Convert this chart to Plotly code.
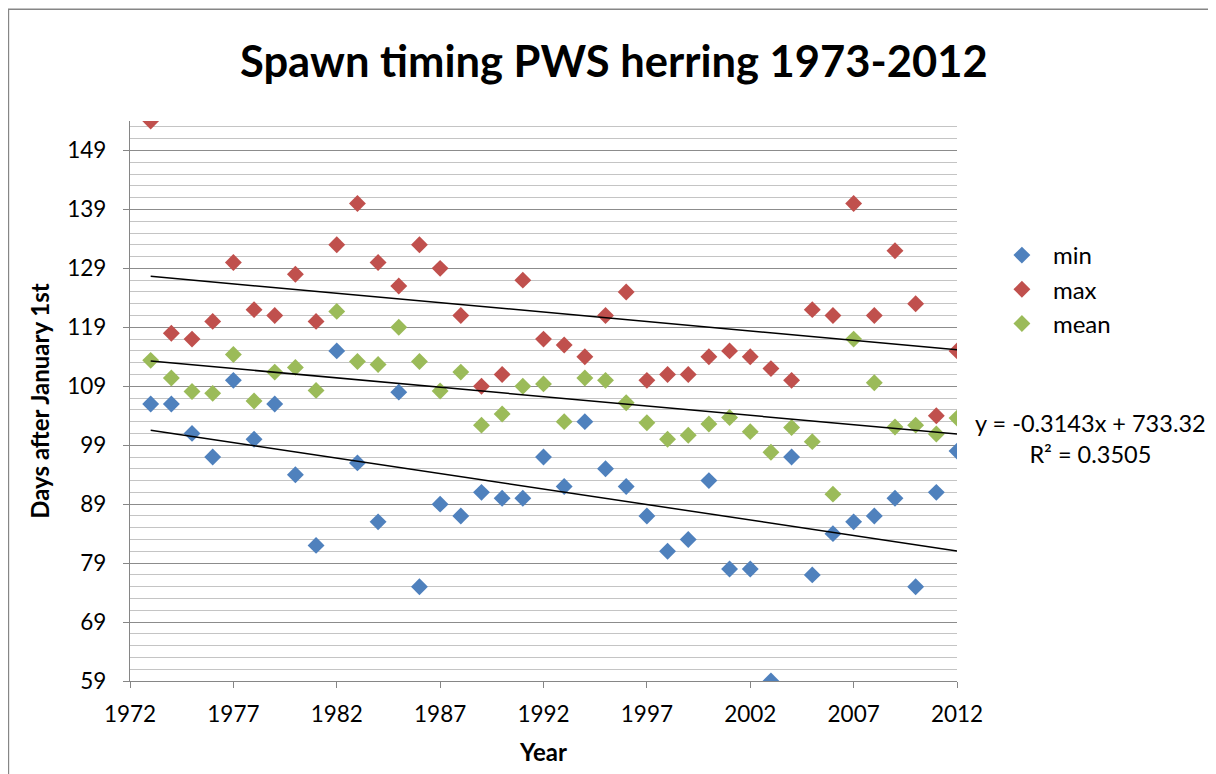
import numpy as np
import plotly.graph_objects as go

years = list(range(1973, 2013))

min_days = [106, 106, 101, 97, 110, 100, 106, 94, 82, 115,
            96, 86, 108, 75, 89, 87, 91, 90, 90, 97,
            92, 103, 95, 92, 87, 81, 83, 93, 78, 78,
            59, 97, 77, 84, 86, 87, 90, 75, 91, 98]
max_days = [154, 118, 117, 120, 130, 122, 121, 128, 120, 133,
            140, 130, 126, 133, 129, 121, 109, 111, 127, 117,
            116, 114, 121, 125, 110, 111, 111, 114, 115, 114,
            112, 110, 122, 121, 140, 121, 132, 123, 104, 115]
mean_days = [113.4, 110.4, 108.1, 107.8, 114.4, 106.5, 111.4, 112.2, 108.3, 121.7,
             113.2, 112.7, 119.0, 113.2, 108.2, 111.4, 102.4, 104.3, 109.0, 109.4,
             103.0, 110.4, 110.0, 106.2, 102.8, 100.0, 100.7, 102.6, 103.7, 101.3,
             97.8, 102.0, 99.6, 90.7, 117.0, 109.6, 102.1, 102.4, 100.9, 103.6]

series = [("min", min_days, "#4F81BD"),
          ("max", max_days, "#C0504D"),
          ("mean", mean_days, "#9BBB59")]

eq_text = "y = -0.3143x + 733.32<br>R² = 0.3505"

FONT = "Lato, Carlito, Calibri, sans-serif"

fig = go.Figure()
x = np.array(years, dtype=float)
for name, vals, color in series:
    fig.add_trace(go.Scatter(x=years, y=vals, mode="markers", name=name,
                             legendgroup=name,
                             marker=dict(symbol="diamond", size=13, color=color)))
# linear trendlines, one per series
for name, vals, color in series:
    slope, icpt = np.polyfit(x, np.array(vals, dtype=float), 1)
    xs = [years[0], years[-1]]
    fig.add_trace(go.Scatter(x=xs, y=[slope * v + icpt for v in xs], mode="lines",
                             line=dict(color="black", width=1.5),
                             showlegend=False, hoverinfo="skip"))

# page body has an 8px margin, so the figure is 8px smaller than the window
fig.update_layout(
    width=1208, height=766,
    margin=dict(l=122, r=259, t=113, b=93),
    paper_bgcolor="white", plot_bgcolor="white",
    font=dict(family=FONT, size=20, color="black"),
    title=dict(text="<b>Spawn timing PWS herring 1973-2012</b>",
               x=0.5015, xanchor="center", y=0.93, yanchor="middle",
               font=dict(size=43.5, family=FONT)),
    legend=dict(x=1.041, xanchor="left", y=0.80, yanchor="top",
                itemwidth=52, tracegroupgap=0, font=dict(size=24),
                bgcolor="rgba(0,0,0,0)"),
    showlegend=True,
)

fig.update_xaxes(range=[1972, 2012], tick0=1972, dtick=5,
                 showgrid=False, zeroline=False,
                 showline=True, linecolor="#868686", linewidth=1.3,
                 ticks="outside", ticklen=6, tickcolor="#868686",
                 ticklabelstandoff=7,
                 tickfont=dict(size=22.5),
                 title=dict(text="<b>Year</b>", font=dict(size=24), standoff=18))
fig.update_yaxes(range=[59, 154], tick0=59, dtick=10,
                 showgrid=True, gridcolor="#8C8C8C", gridwidth=1.3,
                 zeroline=False,
                 minor=dict(tick0=59, dtick=2, showgrid=True,
                            gridcolor="#C4C4C4", gridwidth=1.3),
                 showline=True, linecolor="#868686", linewidth=1.3,
                 ticks="outside", ticklen=6, tickcolor="#868686",
                 ticklabelstandoff=12,
                 tickfont=dict(size=22.5),
                 title=dict(text="<b>Days after January 1st</b>",
                            font=dict(size=24), standoff=10))

fig.add_annotation(text=eq_text, xref="paper", yref="paper",
                   x=1.1613, y=0.433, xanchor="center", yanchor="middle",
                   align="center", showarrow=False, font=dict(size=23.5))

# chart-area border
fig.add_shape(type="rect", xref="paper", yref="paper",
              x0=-0.147, x1=1.308, y0=-0.2, y1=1.1995,
              line=dict(color="#868686", width=1.5), layer="above")

fig.write_html("out.html")
